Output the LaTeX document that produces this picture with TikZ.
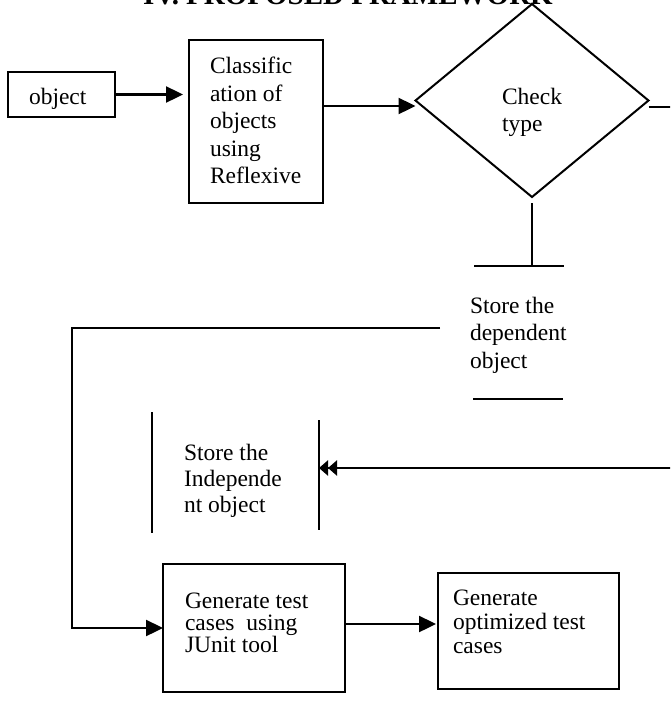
\documentclass[tikz,border=0pt]{standalone}
\usepackage{fontspec}
\setmainfont{Liberation Serif}
\usetikzlibrary{arrows.meta,shapes.geometric}
\begin{document}
\begin{tikzpicture}[x=1pt,y=-1pt,
  lw/.style={line width=2pt},
  box/.style={draw,line width=2pt,inner sep=0pt,outer sep=0pt,anchor=north west},
  txt/.style={inner sep=0pt,outer sep=0pt,anchor=north west,align=left,font=\fontsize{23.5}{#1}\selectfont},
  txt/.default=27.5,
  arr/.style={line width=2.4pt,-{Triangle[length=17pt,width=16pt]}},
  darr/.style={line width=2.4pt,-{Triangle[length=9pt,width=15pt]Triangle[length=9pt,width=15pt]}},
  bar/.style={line width=2pt}]
\useasboundingbox (0,0) rectangle (670,702);
\clip (0,0) rectangle (670,702);

% title (cut off at the top)
\node[anchor=base,inner sep=0pt,font=\fontsize{29}{34}\selectfont\bfseries] (title) at (348,4) {IV. PROPOSED FRAMEWORK};

% object
\node[box,minimum width=107pt,minimum height=45pt] (obj) at (8,72) {};
\node[txt] (objt) at (29,84) {\rule{0pt}{20pt}object};

% classification
\node[box,minimum width=134pt,minimum height=163pt] (cls) at (189,40) {};
\node[txt] (clst) at (210,53.5) {\rule{0pt}{20pt}Classific\\ation of\\objects\\using\\Reflexive};

% diamond
\node[draw,diamond,lw,minimum width=233pt,minimum height=193pt,inner sep=0pt,outer sep=0pt] (dia) at (532,100.5) {};
\node[txt] (diat) at (502,84) {\rule{0pt}{20pt}Check\\type};

% dependent store
\coordinate (dtl) at (474,266);
\coordinate (dtr) at (564,266);
\coordinate (dbl) at (473,398.5);
\coordinate (dbr) at (563,398.5);
\draw[bar] (dtl) -- (dtr);
\draw[bar] (dbl) -- (dbr);
\node[txt] (dept) at (470,293) {\rule{0pt}{20pt}Store the\\dependent\\object};

% independent store
\coordinate (ilt) at (152,412);
\coordinate (ilb) at (152,533);
\coordinate (irt) at (319,420);
\coordinate (irb) at (319,530);
\draw[bar] (ilt) -- (ilb);
\draw[bar] (irt) -- (irb);
\node[txt=26] (indt) at (184,440) {\rule{0pt}{20pt}Store the\\Independe\\nt object};

% generate boxes
\node[box,minimum width=182pt,minimum height=128pt] (gen) at (163,564) {};
\node[txt=22.3] (gent) at (185,588) {\rule{0pt}{20pt}Generate test\\cases\ \ using\\JUnit tool};
\node[box,minimum width=181pt,minimum height=116pt] (opt) at (438,573) {};
\node[txt=24] (optt) at (453,585) {\rule{0pt}{20pt}Generate\\optimized test\\cases};

% connectors
\coordinate (rt) at (672,107);
\coordinate (fb) at (440,328);
\coordinate (fbc) at (72,328);
\coordinate (ir) at (672,468);

\draw[arr,shorten >=6pt] (obj.east) -- (obj.east -| cls.west);
\draw[arr] (cls.east |- 0,106) -- (dia.west |- 0,106);
\draw[lw] (dia.east |- rt) -- (rt);
\draw[lw] ([yshift=-6pt]dia.south) -- (dia.south |- dtl);
\draw[arr] (fb) -- (fbc) |- (gen.west);
\draw[darr] (ir) -- (ir -| irt);
\draw[arr,shorten >=2pt] (gen.east |- 0,624) -- (opt.west |- 0,624);
\end{tikzpicture}
\end{document}
